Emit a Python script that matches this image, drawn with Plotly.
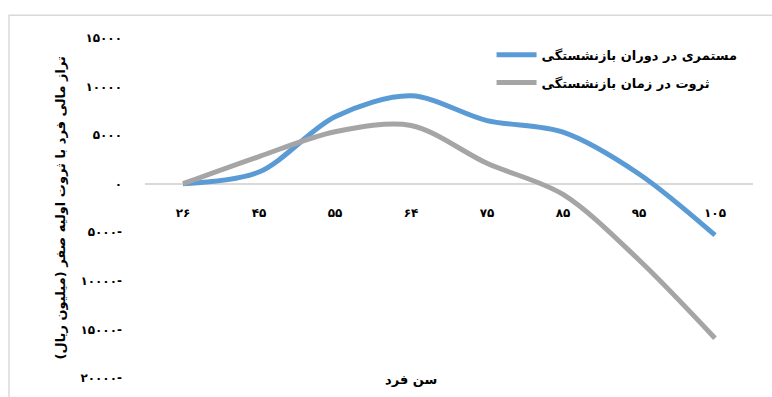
import plotly.graph_objects as go

# Ages (categories) shown with Persian digits
ages = ["۲۶", "۴۵", "۵۵", "۶۴", "۷۵", "۸۵", "۹۵", "۱۰۵"]

# Financial balance (million rials), zero initial wealth
pension_values = [0, 1200, 6900, 9050, 6500, 5300, 1000, -5300]
wealth_values = [0, 2800, 5350, 6000, 2100, -1100, -7850, -15900]

series_names = ["مستمری در دوران بازنشستگی", "ثروت در زمان بازنشستگی"]

y_tickvals = [15000, 10000, 5000, 0, -5000, -10000, -15000, -20000]
y_ticktext = ["۱۵۰۰۰", "۱۰۰۰۰", "۵۰۰۰", "۰", "۵۰۰۰-", "۱۰۰۰۰-", "۱۵۰۰۰-", "۲۰۰۰۰-"]

y_title = "تراز مالی فرد با ثروت اولیه صفر (میلیون ریال)"
x_title = "سن فرد"

FONT = "DejaVu Sans"
y_min, y_max = -20000, 15000

fig = go.Figure()
fig.add_trace(go.Scatter(
    x=ages, y=pension_values, name=series_names[0], mode="lines",
    legendgroup="a",
    line=dict(color="#5B9BD5", width=5, shape="spline", smoothing=0.9),
))
fig.add_trace(go.Scatter(
    x=ages, y=wealth_values, name=series_names[1], mode="lines",
    legendgroup="b",
    line=dict(color="#A5A5A5", width=5, shape="spline", smoothing=0.9),
))

fig.update_layout(
    width=772, height=397,
    margin=dict(l=145, r=19, t=38, b=15),
    paper_bgcolor="white", plot_bgcolor="white",
    font=dict(family=FONT, size=12, color="black"),
    showlegend=True,
    legend=dict(
        x=0.57, y=0.995, xanchor="left", yanchor="top",
        bgcolor="rgba(0,0,0,0)", tracegroupgap=8, traceorder="grouped",
        font=dict(family=FONT, size=13, color="black", weight="bold"),
        itemwidth=40,
    ),
    xaxis=dict(
        type="category",
        range=[-0.5, len(ages) - 0.5],
        anchor="free",
        position=(0 - y_min) / (y_max - y_min),
        showline=False, showgrid=False, zeroline=False,
        ticks="", ticklabelstandoff=20,
        tickfont=dict(family=FONT, size=12, weight="bold"),
        fixedrange=True,
    ),
    yaxis=dict(
        range=[y_min, y_max],
        tickvals=y_tickvals, ticktext=y_ticktext,
        showgrid=False, showline=False,
        zeroline=True, zerolinecolor="#D9D9D9", zerolinewidth=1.5,
        ticks="", ticklabelstandoff=22,
        tickfont=dict(family=FONT, size=12, weight="bold"),
        fixedrange=True,
    ),
)

# Axis titles
fig.add_annotation(
    text=y_title, xref="paper", yref="paper",
    x=-0.125, xanchor="right", y=0.5, textangle=-90, showarrow=False,
    font=dict(family=FONT, size=13, weight="bold"),
)
fig.add_annotation(
    text=x_title, xref="paper", yref="paper",
    x=0.438, y=-0.005, yanchor="middle", showarrow=False,
    font=dict(family=FONT, size=13, weight="bold"),
)

# Chart-area border
fig.add_shape(
    type="rect", xref="paper", yref="paper",
    x0=-0.2237, x1=1.04, y0=-0.1, y1=1.0669,
    line=dict(color="#D9D9D9", width=1.5), fillcolor="rgba(0,0,0,0)",
    layer="below",
)

fig.write_html("out.html")
